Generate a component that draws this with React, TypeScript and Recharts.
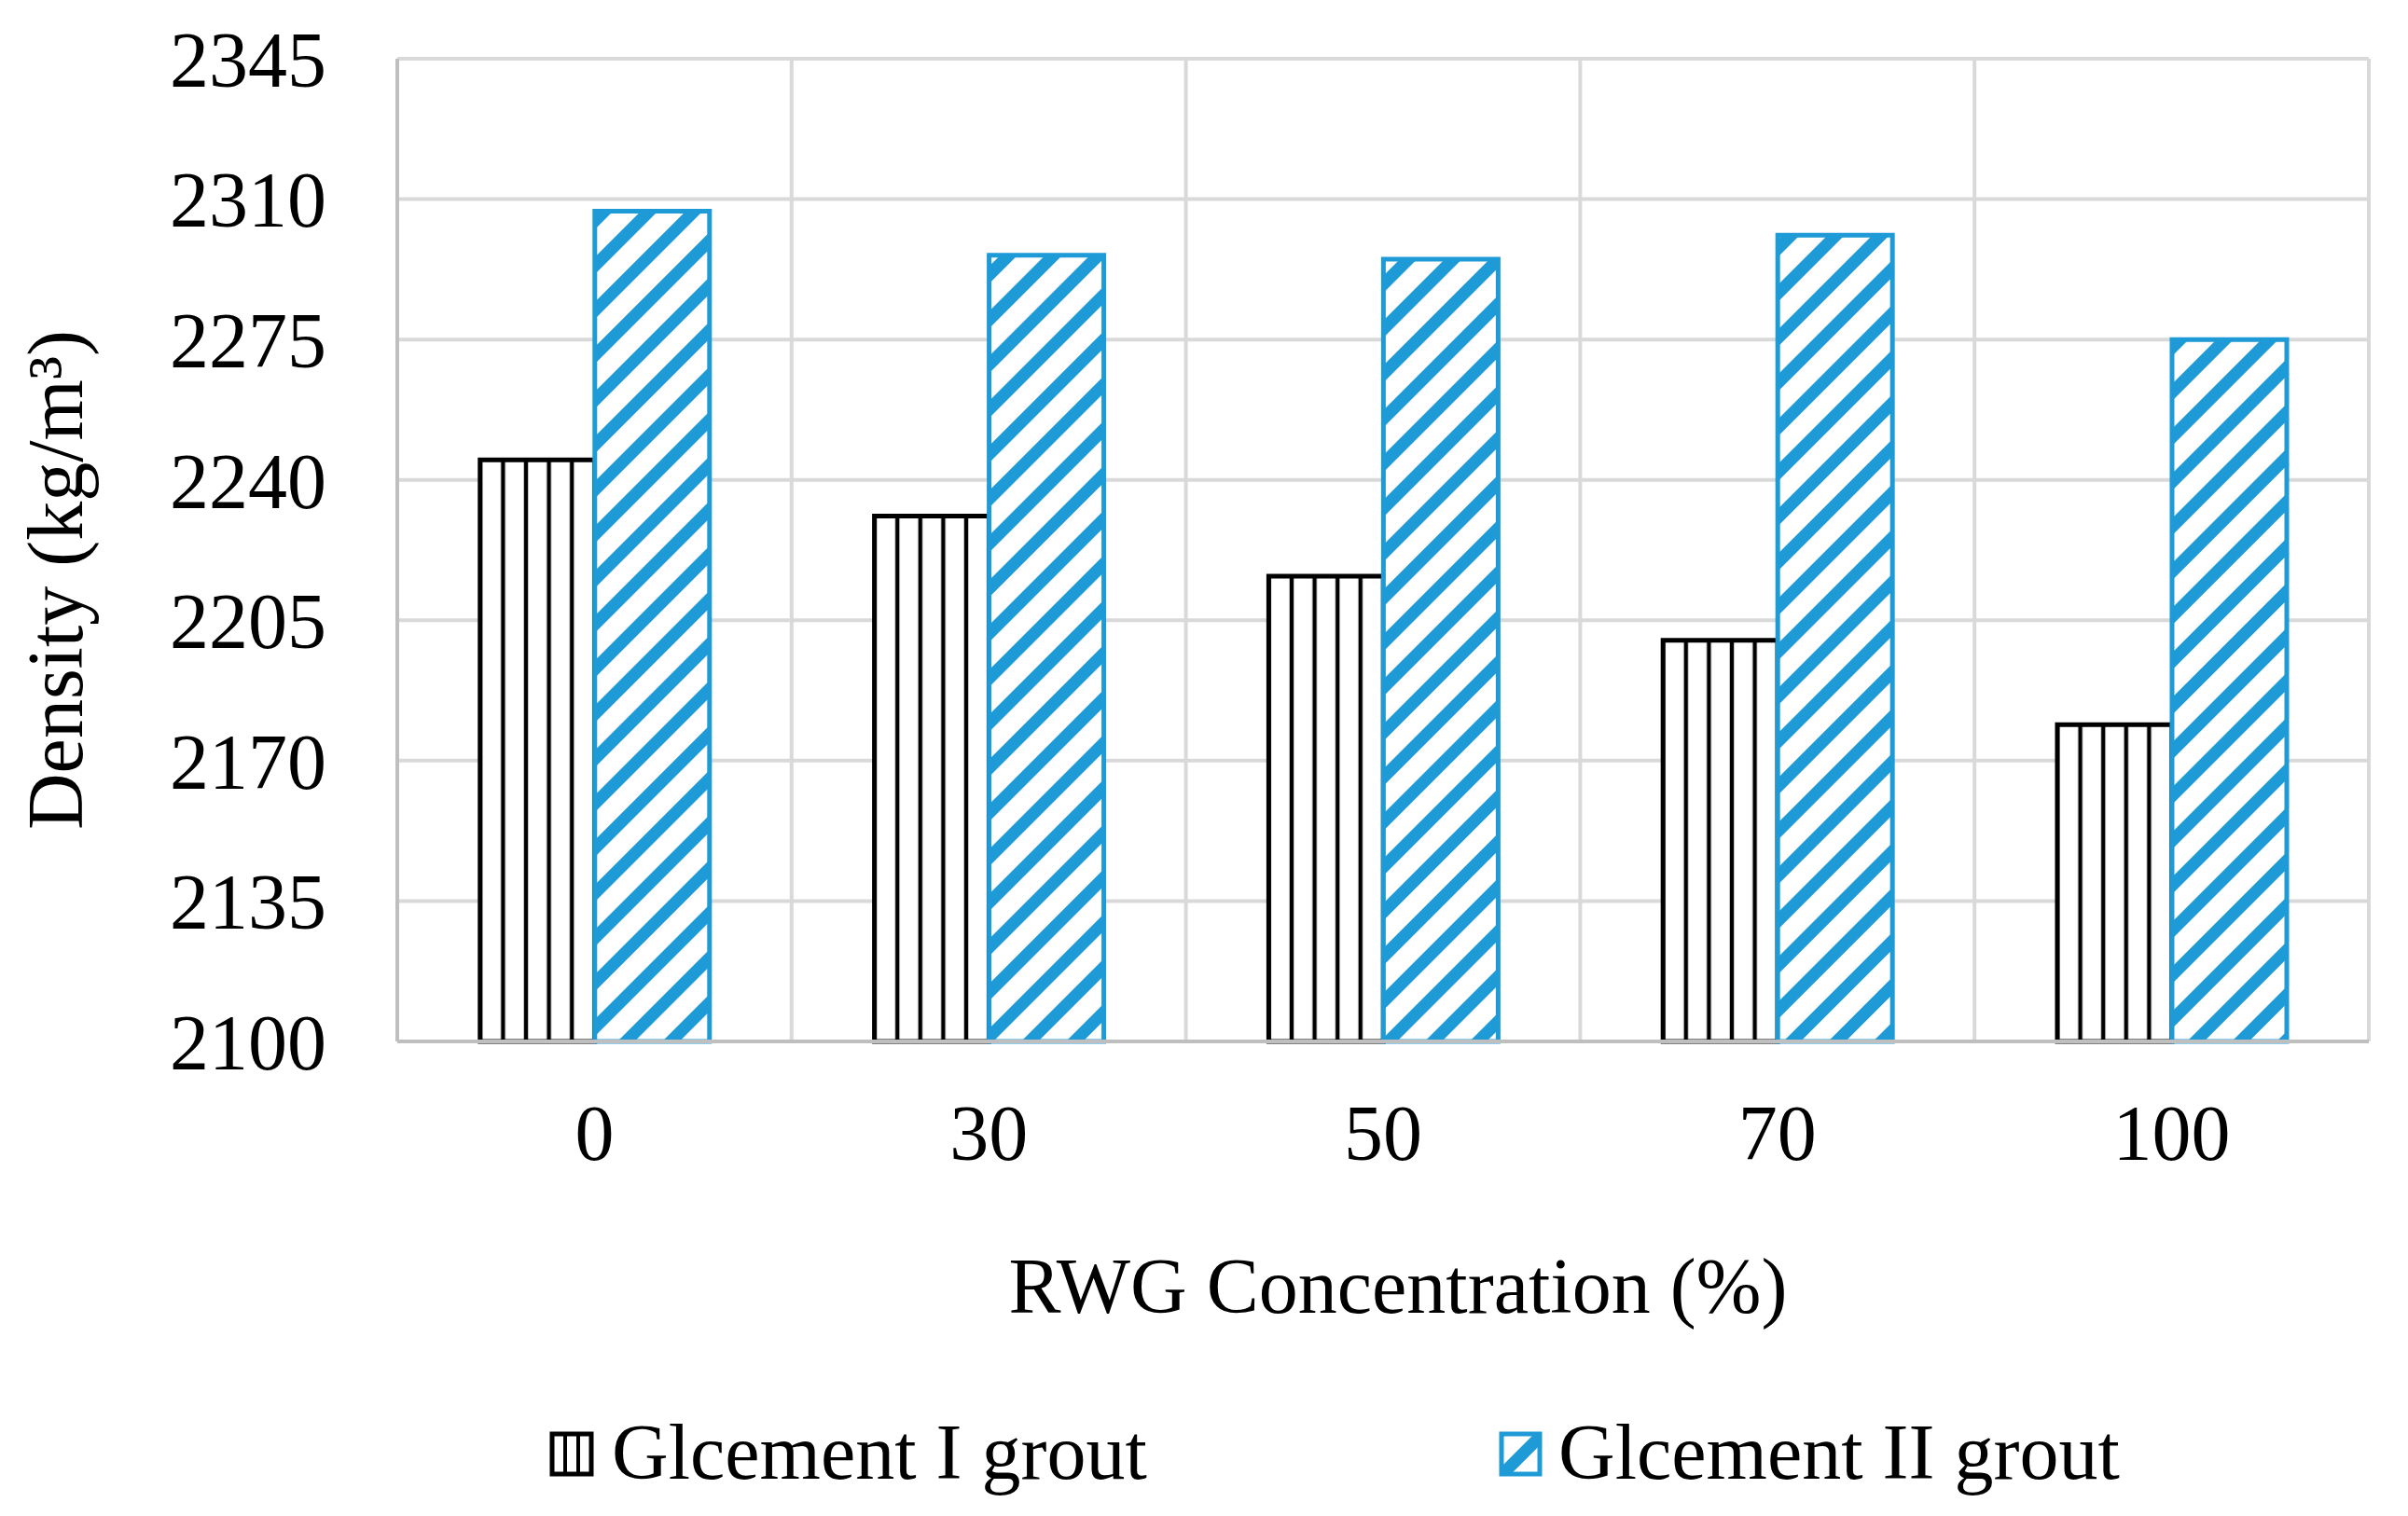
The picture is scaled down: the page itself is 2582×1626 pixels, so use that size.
import React from 'react';
import { BarChart, Bar, XAxis, YAxis, CartesianGrid, Label } from 'recharts';

const categories = ['0', '30', '50', '70', '100'];
const glcementI = [2245, 2231, 2216, 2200, 2179];
const glcementII = [2307, 2296, 2295, 2301, 2275];
const yTicks = [2100, 2135, 2170, 2205, 2240, 2275, 2310, 2345];
const seriesNames = ['Glcement I grout', 'Glcement II grout'];
const xTitle = 'RWG Concentration (%)';
const yTitle = 'Density (kg/m³)';

const data = categories.map((c, i) => ({ cat: c, g1: glcementI[i], g2: glcementII[i] }));

const FONT = '"Liberation Serif", "Times New Roman", serif';
const BLUE = '#1E9BD7';
const FS = 84;

const XTitle = (props: any) => {
  const vb = props.viewBox || {};
  return (
    <text x={vb.x + vb.width / 2 + 16} y={vb.y + 291} textAnchor="middle" fontFamily={FONT} fontSize={FS} fill="#000">
      {xTitle}
    </text>
  );
};

const YTitle = (props: any) => {
  const vb = props.viewBox || {};
  const x = vb.x + 88;
  const y = vb.y + vb.height / 2 + 32;
  return (
    <text x={x} y={y} transform={`rotate(-90 ${x} ${y})`} textAnchor="middle" fontFamily={FONT} fontSize={FS} fill="#000">
      {yTitle}
    </text>
  );
};

const LegendBar = () => (
  <svg width={2582} height={126} style={{ position: 'absolute', left: 0, top: 1500 }}>
    <defs>
      <pattern id="hatchLegend" patternUnits="userSpaceOnUse" width={34} height={34} patternTransform="rotate(45)">
        <rect width={34} height={34} fill="#fff" />
        <rect x={0} y={0} width={13} height={34} fill={BLUE} />
      </pattern>
    </defs>
    <g>
      <rect x={592} y={38} width={42} height={43} fill="#fff" stroke="#000" strokeWidth={5} />
      <line x1={606} y1={38} x2={606} y2={81} stroke="#000" strokeWidth={4} />
      <line x1={620} y1={38} x2={620} y2={81} stroke="#000" strokeWidth={4} />
      <text x={656} y={86} fontFamily={FONT} fontSize={FS} fill="#000">{seriesNames[0]}</text>
    </g>
    <g>
      <rect x={1610} y={38} width={41} height={43} fill="url(#hatchLegend)" stroke={BLUE} strokeWidth={5} />
      <text x={1671} y={86} fontFamily={FONT} fontSize={FS} fill="#000">{seriesNames[1]}</text>
    </g>
  </svg>
);

export default function App() {
  return (
    <div style={{ position: 'absolute', left: 0, top: 0, width: 2582, height: 1626, background: '#fff' }}>
      <BarChart
        width={2582}
        height={1626}
        data={data}
        margin={{ top: 63, right: 42, bottom: 309, left: 0 }}
        barCategoryGap="21%"
        barGap={0}
      >
        <defs>
          <pattern id="vlines" patternUnits="objectBoundingBox" patternContentUnits="objectBoundingBox" width={0.2} height={1}>
            <rect x={0} y={0} width={0.2} height={1} fill="#fff" />
            <rect x={0} y={0} width={0.018} height={1} fill="#000" />
            <rect x={0.182} y={0} width={0.018} height={1} fill="#000" />
          </pattern>
          <pattern id="hatch" patternUnits="userSpaceOnUse" width={34} height={34} patternTransform="rotate(45)">
            <rect width={34} height={34} fill="#fff" />
            <rect x={0} y={0} width={13} height={34} fill={BLUE} />
          </pattern>
        </defs>
        <CartesianGrid
          stroke="#D9D9D9"
          strokeWidth={4}
          verticalCoordinatesGenerator={({ offset }: any) =>
            categories.map((_, i) => offset.left + (i * offset.width) / categories.length).concat([offset.left + offset.width])
          }
        />
        <XAxis
          dataKey="cat"
          height={200}
          interval={0}
          tickSize={0}
          tickMargin={67}
          tickLine={false}
          axisLine={{ stroke: '#BFBFBF', strokeWidth: 4 }}
          tick={{ fill: '#000', fontSize: FS, fontFamily: FONT }}
        >
          <Label content={XTitle} />
        </XAxis>
        <YAxis
          width={426}
          domain={[2100, 2345]}
          ticks={yTicks}
          interval={0}
          tickSize={0}
          tickMargin={76}
          tickLine={false}
          axisLine={{ stroke: '#BFBFBF', strokeWidth: 4 }}
          tick={{ fill: '#000', fontSize: FS, fontFamily: FONT }}
        >
          <Label content={YTitle} />
        </YAxis>
        <Bar dataKey="g1" name={seriesNames[0]} fill="url(#vlines)" stroke="#000" strokeWidth={5} isAnimationActive={false} />
        <Bar dataKey="g2" name={seriesNames[1]} fill="url(#hatch)" stroke={BLUE} strokeWidth={5} isAnimationActive={false} />
      </BarChart>
      <LegendBar />
    </div>
  );
}
